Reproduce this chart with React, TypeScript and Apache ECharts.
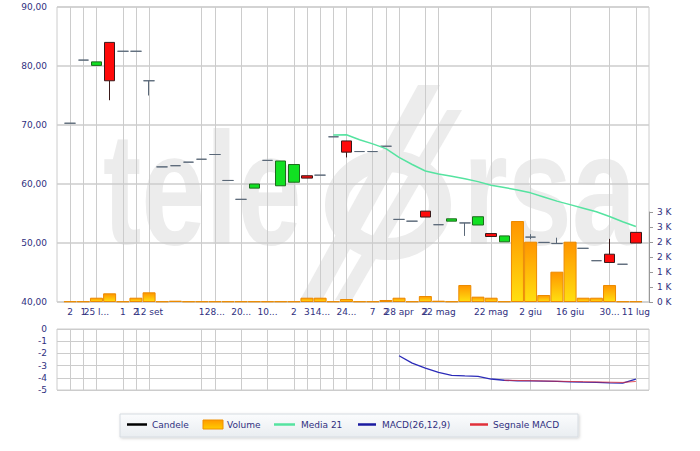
import React, { useEffect, useRef } from "react";
import * as echarts from "echarts";

// ---- Data ----
const xTickLabels: string[] = [
  "2", "1", "25 l...", "", "1", "2", "12 set", "", "", "", "1", "28...", "", "20...", "", "10...", "",
  "2", "3", "14...", " ", "24...", "", "7", "2", "28 apr", "", "2", "22 mag", "", "", "", "22 mag",
  "", "", "2 giu", "", "", "16 giu", "", "", "30...", "", "11 lug",
];

const opens: number[] = [
  70.3, 81.0, 80.1, 84.0, 82.5, 82.5, 77.5, 62.9, 63.1, 63.7, 64.2, 65.0, 60.6, 57.4, 59.3, 64.0,
  59.7, 60.3, 61.4, 61.5, 68.0, 67.3, 65.5, 65.5, 66.4, 54.0, 53.7, 55.4, 53.1, 53.7, 53.4, 53.05,
  51.6, 50.2, 51.0, 51.0, 50.1, 49.9, 49.6, 49.1, 47.0, 48.1, 46.4, 51.8,
];
const closes: number[] = [
  70.3, 81.0, 80.7, 77.5, 82.5, 82.5, 77.5, 62.9, 63.1, 63.7, 64.2, 65.0, 60.6, 57.4, 60.0, 64.0,
  63.9, 63.3, 61.0, 61.5, 68.0, 65.4, 65.5, 65.5, 66.4, 54.0, 53.7, 54.4, 53.1, 54.1, 53.4, 54.45,
  51.1, 51.2, 51.0, 51.0, 50.1, 49.9, 49.6, 49.1, 47.0, 46.7, 46.4, 50.0,
];
const lows: number[] = [
  70.3, 81.0, 80.1, 74.2, 82.5, 82.5, 75.0, 62.9, 63.1, 63.7, 64.2, 65.0, 60.6, 57.4, 59.3, 64.0,
  59.7, 60.3, 61.0, 61.5, 68.0, 64.5, 65.5, 65.5, 66.4, 54.0, 53.7, 54.4, 53.1, 53.7, 51.2, 53.05,
  51.1, 50.2, 51.0, 50.65, 50.1, 49.9, 49.6, 49.1, 47.0, 46.7, 46.4, 50.0,
];
const highs: number[] = [
  70.3, 81.0, 80.7, 84.0, 82.5, 82.5, 77.5, 62.9, 63.1, 63.7, 64.2, 65.0, 60.6, 57.4, 60.0, 64.0,
  63.9, 63.3, 61.4, 61.5, 68.0, 67.3, 65.5, 65.5, 66.4, 54.0, 53.7, 55.4, 53.1, 54.1, 53.4, 54.45,
  51.6, 51.2, 51.0, 51.5, 50.1, 50.9, 49.6, 49.1, 47.0, 50.7, 46.4, 51.8,
];
const volumes: number[] = [
  20, 20, 143, 290, 20, 143, 323, 20, 43, 20,
  20, 20, 20, 20, 20, 20, 20, 20,
  143, 143, 20, 100, 20, 20, 67, 143, 20, 200, 43, 20,
  567, 178, 143, 20, 2700, 2010, 233, 1010, 2010, 143,
  143, 567, 20, 20,
];
const ma21: (number | null)[] = [
  null, null, null, null, null, null, null, null, null, null,
  null, null, null, null, null, null, null, null, null, null,
  68.3, 68.35, 67.5, 66.8, 66.0, 64.5, 63.3, 62.2, 61.7, 61.3, 60.9, 60.4,
  59.8, 59.4, 59.0, 58.5, 57.8, 57.1, 56.5, 55.9, 55.3, 54.5, 53.6, 52.8,
];
const macd: (number | null)[] = [
  null, null, null, null, null, null, null, null, null, null,
  null, null, null, null, null, null, null, null, null, null,
  null, null, null, null, null,
  -2.19, -2.8, -3.2, -3.55, -3.8, -3.85, -3.88, -4.1, -4.2, -4.25, -4.26, -4.28, -4.3, -4.33,
  -4.36, -4.38, -4.42, -4.43, -4.1,
];
const signal: (number | null)[] = [
  null, null, null, null, null, null, null, null, null, null,
  null, null, null, null, null, null, null, null, null, null,
  null, null, null, null, null, null, null, null, null, null,
  null, null, null,
  -4.2, -4.22, -4.24, -4.26, -4.28, -4.3, -4.32, -4.34, -4.36, -4.38, -4.3,
];
const legendNames: string[] = ["Candele", "Volume", "Media 21", "MACD(26,12,9)", "Segnale MACD"];

// ---- Styles ----
const NAVY = "#303080";
const GRID = "#cccccc";
const FONT = "DejaVu Sans";
const UP = "#11e022";
const DOWN = "#ff0a0a";
const DOJI = "#5a6878";
const MA_COL = "#55e3a0";
const MACD_COL = "#2b2bb8";
const SIG_COL = "#e0303a";

const GL = 57;
const GW = 592;

export default function App() {
  const ref = useRef<HTMLDivElement>(null);

  useEffect(() => {
    if (!ref.current) return;
    const chart = echarts.init(ref.current, undefined, { renderer: "svg" });

    // padded categories: one empty slot before and after the candles
    const n = opens.length;
    const cats: string[] = [];
    for (let i = 0; i < n + 2; i++) cats.push(String(i));
    const labelAt = (i: number) => (i >= 1 && i <= n ? xTickLabels[i - 1] : "");
    const hasTick = (i: number) => labelAt(i) !== "";

    const empty4 = { value: ["-", "-", "-", "-"] };
    const candleData: any[] = [empty4];
    for (let k = 0; k < n; k++) {
      const item: any = { value: [opens[k], closes[k], lows[k], highs[k]] };
      if (opens[k] === closes[k]) item.itemStyle = { borderColor: DOJI, borderColor0: DOJI };
      candleData.push(item);
    }
    candleData.push(empty4);

    const padLine = (a: (number | null)[]) => ["-", ...a.map((v) => (v === null ? "-" : v)), "-"];

    const volGrad = new echarts.graphic.LinearGradient(0, 0, 0, 1, [
      { offset: 0, color: "#ff9500" },
      { offset: 1, color: "#ffdf10" },
    ]);

    const xBase = {
      type: "category" as const,
      data: cats,
      boundaryGap: false,
      axisLine: { show: false },
      axisTick: { show: false },
    };

    const legendGroup: any[] = [];
    legendGroup.push({
      type: "rect",
      shape: { x: 120, y: 414, width: 458, height: 23 },
      style: {
        fill: new echarts.graphic.LinearGradient(0, 0, 0, 1, [
          { offset: 0, color: "#fbfcfd" },
          { offset: 1, color: "#e9edf1" },
        ]),
        stroke: "#d6dbe1",
        lineWidth: 1,
        shadowBlur: 3,
        shadowOffsetX: 1,
        shadowOffsetY: 1,
        shadowColor: "rgba(0,0,0,0.18)",
      },
      z: 10,
    });
    const legendPos = [
      { x1: 127, x2: 147, tx: 152, color: "#000000", kind: "line" },
      { x1: 203, x2: 223, tx: 227, color: "#ffaa00", kind: "rect" },
      { x1: 274, x2: 295, tx: 301, color: MA_COL, kind: "line" },
      { x1: 358, x2: 376, tx: 382, color: "#1a1aa0", kind: "line" },
      { x1: 470, x2: 488, tx: 493, color: SIG_COL, kind: "line" },
    ];
    legendPos.forEach((p, i) => {
      if (p.kind === "line") {
        legendGroup.push({
          type: "line",
          shape: { x1: p.x1, y1: 424.5, x2: p.x2, y2: 424.5 },
          style: { stroke: p.color, lineWidth: 2.5 },
          z: 11,
        });
      } else {
        legendGroup.push({
          type: "rect",
          shape: { x: p.x1, y: 420, width: p.x2 - p.x1, height: 9 },
          style: {
            fill: new echarts.graphic.LinearGradient(0, 0, 0, 1, [
              { offset: 0, color: "#ff9a00" },
              { offset: 1, color: "#ffcc00" },
            ]),
            stroke: "#f09000",
            lineWidth: 1,
          },
          z: 11,
        });
      }
      legendGroup.push({
        type: "text",
        x: p.tx,
        y: 424.5,
        style: {
          text: legendNames[i],
          fill: NAVY,
          font: `9px "${FONT}"`,
          verticalAlign: "middle",
          align: "left",
        },
        z: 11,
      });
    });

    const WM = "#ececec";
    const watermark: any[] = [
      {
        type: "text",
        x: 103,
        y: 189,
        scaleX: 0.72,
        style: {
          text: "tele",
          fill: WM,
          font: 'bold 160px "Liberation Sans"',
          verticalAlign: "middle",
          align: "left",
        },
        z: -5,
      },
      {
        type: "text",
        x: 463,
        y: 189,
        scaleX: 0.72,
        style: {
          text: "rsa",
          fill: WM,
          font: 'bold 160px "Liberation Sans"',
          verticalAlign: "middle",
          align: "left",
        },
        z: -5,
      },
      {
        type: "ellipse",
        shape: { cx: 388, cy: 205, rx: 52, ry: 44 },
        style: { fill: "none", stroke: WM, lineWidth: 22 },
        z: -5,
      },
      {
        type: "polygon",
        shape: { points: [[300, 300], [322, 300], [440, 85], [418, 85]] },
        style: { fill: WM },
        z: -5,
      },
      {
        type: "polygon",
        shape: { points: [[335, 300], [352, 300], [462, 110], [447, 110]] },
        style: { fill: WM },
        z: -5,
      },
    ];

    const option: any = {
      animation: false,
      backgroundColor: "#ffffff",
      textStyle: { fontFamily: FONT },
      grid: [
        { left: GL, top: 7, width: GW, height: 295, show: true, borderColor: GRID, borderWidth: 1 },
        { left: GL, top: 212, width: GW, height: 90 },
        { left: GL, top: 329, width: GW, height: 61, show: true, borderColor: GRID, borderWidth: 1 },
      ],
      xAxis: [
        {
          ...xBase,
          gridIndex: 0,
          axisLabel: {
            interval: 0,
            margin: 5,
            color: NAVY,
            fontSize: 9,
            fontFamily: FONT,
            formatter: (_v: string, i: number) => labelAt(i),
          },
          splitLine: {
            show: true,
            interval: (i: number) => hasTick(i),
            lineStyle: { color: GRID, width: 1 },
          },
        },
        { ...xBase, gridIndex: 1, show: false },
        {
          ...xBase,
          gridIndex: 2,
          axisLabel: { show: false },
          splitLine: {
            show: true,
            interval: (i: number) => hasTick(i),
            lineStyle: { color: GRID, width: 1 },
          },
        },
      ],
      yAxis: [
        {
          type: "value",
          gridIndex: 0,
          min: 40,
          max: 90,
          interval: 10,
          axisLine: { show: false },
          axisTick: { show: false },
          axisLabel: {
            margin: 10,
            color: NAVY,
            fontSize: 9,
            fontFamily: FONT,
            formatter: (v: number) => v.toFixed(2).replace(".", ","),
          },
          splitLine: { show: true, lineStyle: { color: GRID, width: 1.5 } },
        },
        {
          type: "value",
          gridIndex: 1,
          position: "right",
          min: 0,
          max: 3000,
          interval: 500,
          axisLine: { show: true, lineStyle: { color: "#999999" } },
          axisTick: { show: true, length: 4, lineStyle: { color: "#999999" } },
          axisLabel: {
            margin: 8,
            color: NAVY,
            fontSize: 9,
            fontFamily: FONT,
            formatter: (v: number) => Math.round(v / 1000) + " K",
          },
          splitLine: { show: false },
        },
        {
          type: "value",
          gridIndex: 2,
          min: -5,
          max: 0,
          interval: 1,
          axisLine: { show: false },
          axisTick: { show: false },
          axisLabel: { margin: 10, color: NAVY, fontSize: 9, fontFamily: FONT },
          splitLine: { show: true, lineStyle: { color: GRID, width: 1 } },
        },
      ],
      series: [
        {
          name: legendNames[0],
          type: "candlestick",
          xAxisIndex: 0,
          yAxisIndex: 0,
          barWidth: 11,
          data: candleData,
          itemStyle: {
            color: UP,
            color0: DOWN,
            borderColor: "#1d6b1d",
            borderColor0: "#3a1a1a",
            borderWidth: 1,
          },
          z: 3,
        },
        {
          name: legendNames[2],
          type: "line",
          xAxisIndex: 0,
          yAxisIndex: 0,
          data: padLine(ma21),
          symbol: "none",
          lineStyle: { color: MA_COL, width: 1.5 },
          z: 4,
        },
        {
          name: legendNames[1],
          type: "bar",
          xAxisIndex: 1,
          yAxisIndex: 1,
          barWidth: 13,
          data: ["-", ...volumes, "-"],
          itemStyle: { color: volGrad, borderColor: "#ec8a00", borderWidth: 1 },
          z: 5,
        },
        {
          name: legendNames[3],
          type: "line",
          xAxisIndex: 2,
          yAxisIndex: 2,
          data: padLine(macd),
          symbol: "none",
          lineStyle: { color: MACD_COL, width: 1.3 },
          z: 4,
        },
        {
          name: legendNames[4],
          type: "line",
          xAxisIndex: 2,
          yAxisIndex: 2,
          data: padLine(signal),
          symbol: "none",
          lineStyle: { color: SIG_COL, width: 1, opacity: 0.8 },
          z: 5,
        },
      ],
      graphic: [...watermark, ...legendGroup],
    };

    chart.setOption(option);
    return () => chart.dispose();
  }, []);

  return (
    <div
      ref={ref}
      style={{ position: "absolute", left: 0, top: 0, width: 700, height: 451, background: "#fff" }}
    />
  );
}
